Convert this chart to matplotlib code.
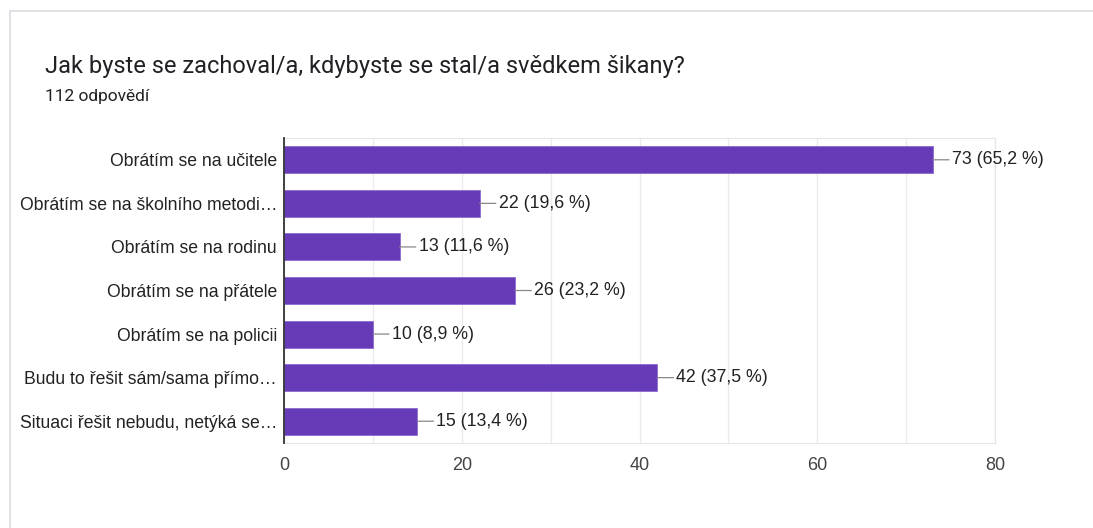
import matplotlib
matplotlib.use("Agg")
import matplotlib.pyplot as plt
from matplotlib.patches import Rectangle

categories = [
    "Obrátím se na učitele",
    "Obrátím se na školního metodi…",
    "Obrátím se na rodinu",
    "Obrátím se na přátele",
    "Obrátím se na policii",
    "Budu to řešit sám/sama přímo…",
    "Situaci řešit nebudu, netýká se…",
]
counts = [73, 22, 13, 26, 10, 42, 15]
percents = ["65,2", "19,6", "11,6", "23,2", "8,9", "37,5", "13,4"]
xticks = [0, 20, 40, 60, 80]

plt.rcParams['font.family'] = ['Liberation Sans', 'DejaVu Sans']

fig = plt.figure(figsize=(10.93, 5.28), dpi=100)
W, H = 1093, 528

# card border
fig.patches.append(Rectangle((10 / W, -0.1), 1.2, (H - 11) / H + 0.1,
                             transform=fig.transFigure, fill=False,
                             edgecolor='#dadce0', linewidth=1.2))

fig.text(45 / W, 1 - 66 / H, "Jak byste se zachoval/a, kdybyste se stal/a svědkem šikany?",
         fontsize=17, family=['Roboto', 'DejaVu Sans'], color='#202124', va='center')
fig.text(45 / W, 1 - 97 / H, "112 odpovědí", fontsize=12.5,
         family=['Roboto', 'DejaVu Sans'], color='#202124', va='center')

ax = fig.add_axes([284 / W, 1 - 443 / H, (995 - 284) / W, (443 - 138) / H])
y = list(range(len(categories)))
ax.barh(y, counts, height=0.62, color='#673ab7', edgecolor='#8e6bd0', linewidth=0.6, zorder=3)
ax.set_ylim(6.5, -0.5)
ax.set_xlim(0, 80)
ax.set_xticks(xticks)
ax.set_xticks([10, 30, 50, 70], minor=True)
ax.set_yticks(y)
ax.set_yticklabels(categories, fontsize=12.7, color='#222222')
ax.tick_params(axis='x', labelsize=13, colors='#444444', length=0, pad=10)
ax.tick_params(axis='x', which='minor', length=0)
ax.tick_params(axis='y', length=0, pad=5)
ax.grid(axis='x', which='both', color='#ebebeb', linewidth=1, zorder=0)
for s in ['top', 'right', 'bottom']:
    ax.spines[s].set_color('#e6e6e6')
ax.spines['left'].set_color('#333333')
ax.spines['left'].set_linewidth(1.3)
ax.spines['left'].set_zorder(4)

for yi, c, p in zip(y, counts, percents):
    ax.annotate(f"{c} ({p} %)", xy=(c, yi), xytext=(19, 0), textcoords='offset pixels',
                va='center', ha='left', fontsize=12.8, color='#222222',
                arrowprops=dict(arrowstyle='-', color='#888888', linewidth=0.9,
                                shrinkA=0, shrinkB=0))

fig.savefig("out.png", dpi=100)
